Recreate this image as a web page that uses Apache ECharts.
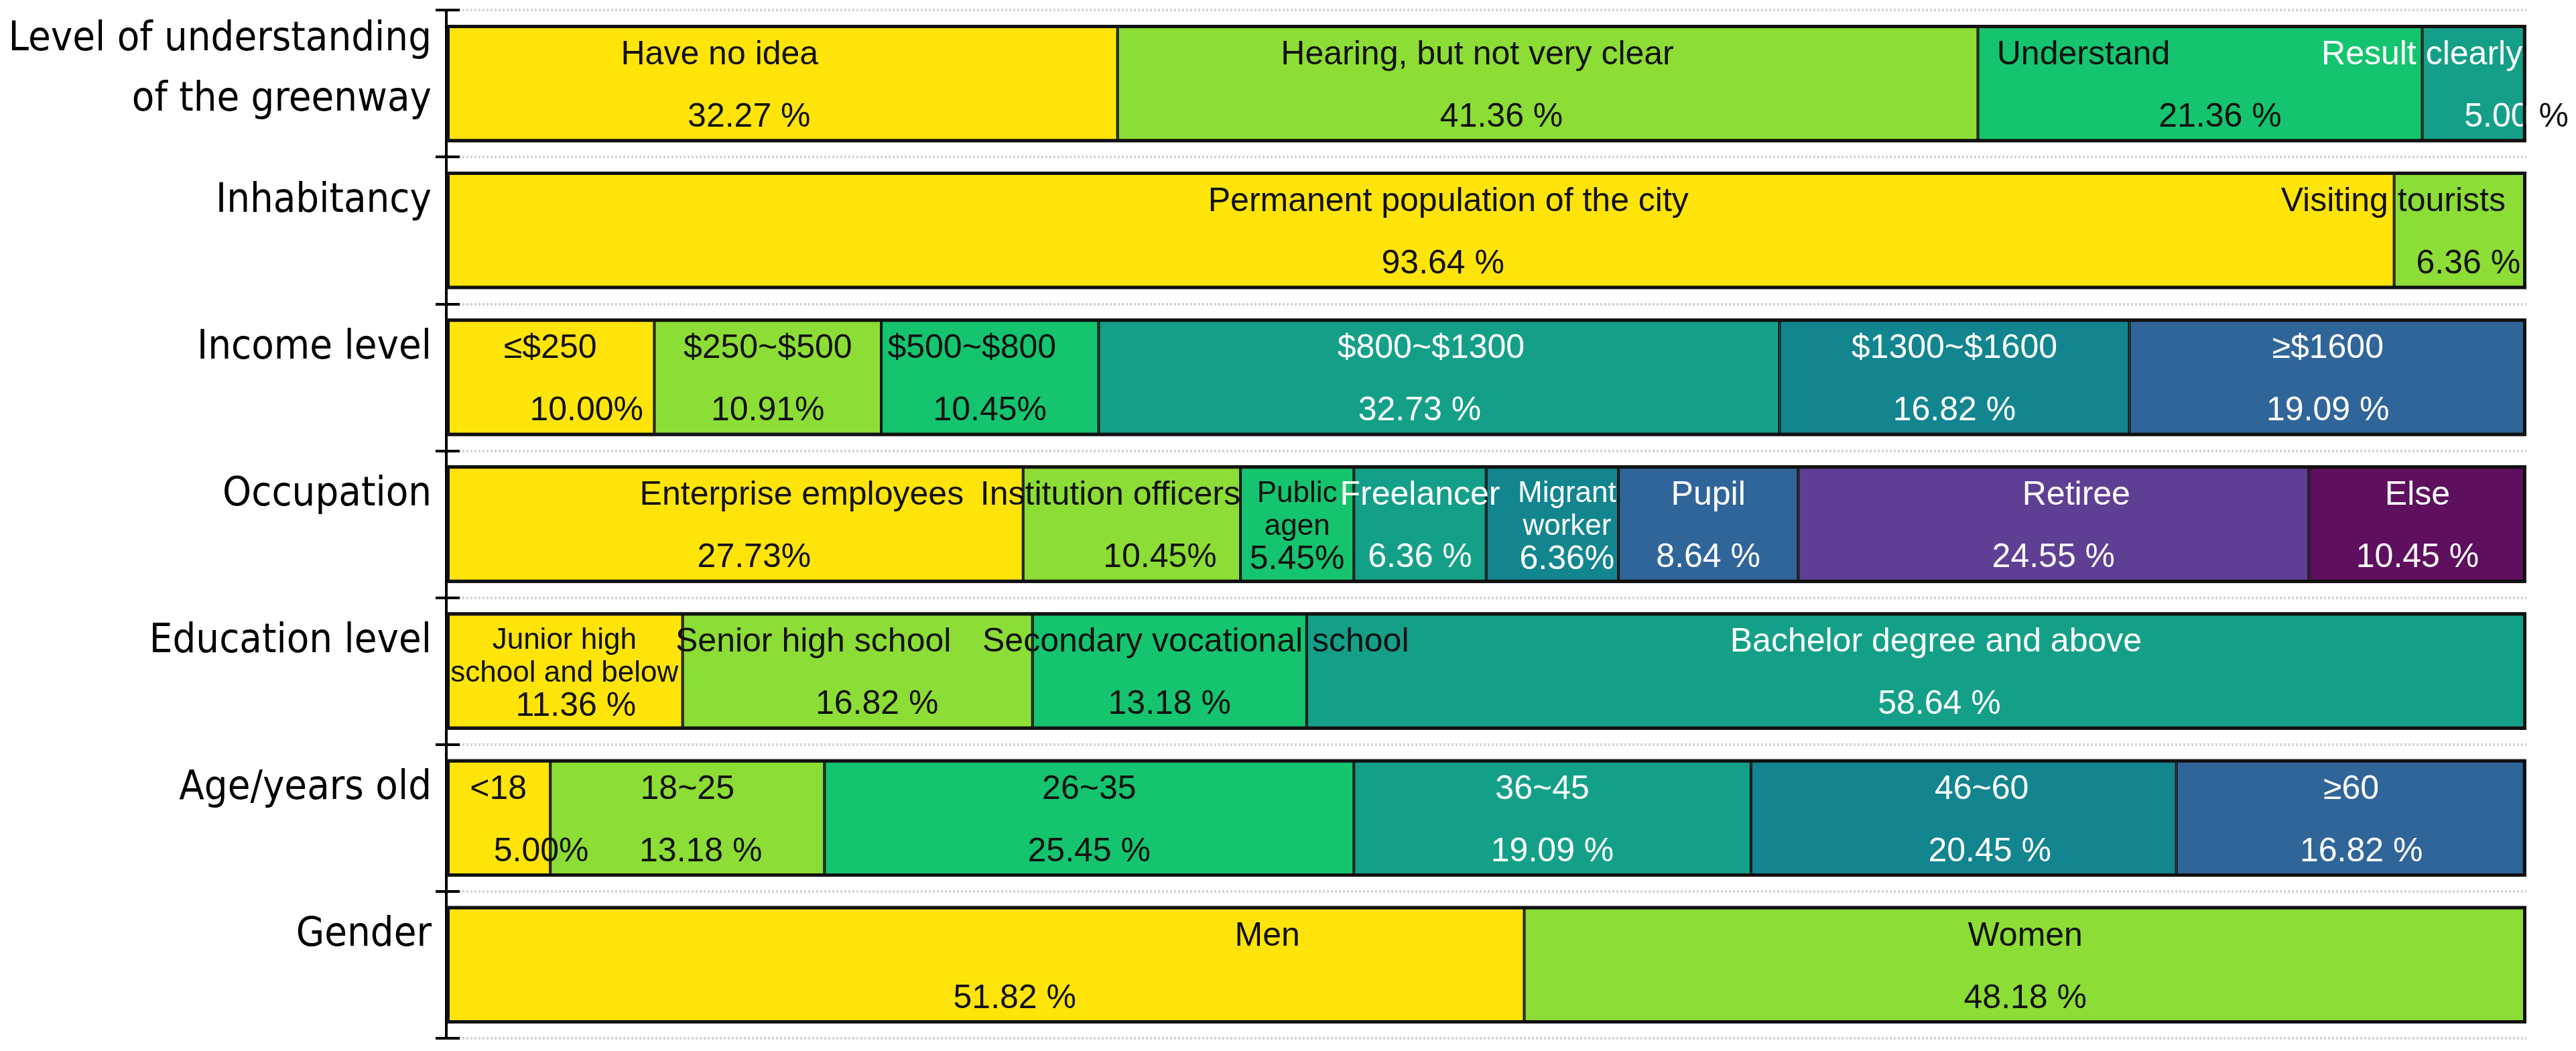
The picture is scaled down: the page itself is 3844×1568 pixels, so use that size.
<!DOCTYPE html>
<html>
<head>
<meta charset="utf-8">
<title>Greenway survey respondents</title>
<script src="https://cdn.jsdelivr.net/npm/echarts@6/dist/echarts.min.js"></script>
<style>
  html, body { margin: 0; padding: 0; background: #fff; }
  #chart { width: 3844px; height: 1568px; }
</style>
</head>
<body>
<div id="chart"></div>
<script>
// rows, top to bottom
const rows = ['Level of understanding\nof the greenway', 'Inhabitancy', 'Income level', 'Occupation', 'Education level', 'Age/years old', 'Gender']

const understandingNames = ['Have no idea', 'Hearing, but not very clear', 'Understand', 'Result clearly']
const understandingValues = [32.27, 41.36, 21.36, 5.00]
const inhabitancyNames = ['Permanent population of the city', 'Visiting tourists']
const inhabitancyValues = [93.64, 6.36]
const incomeNames = ['≤$250', '$250~$500', '$500~$800', '$800~$1300', '$1300~$1600', '≥$1600']
const incomeValues = [10.00, 10.91, 10.45, 32.73, 16.82, 19.09]
const occupationNames = ['Enterprise employees', 'Institution officers', 'Public\nagen', 'Freelancer', 'Migrant\nworker', 'Pupil', 'Retiree', 'Else']
const occupationValues = [27.73, 10.45, 5.45, 6.36, 6.36, 8.64, 24.55, 10.45]
const educationNames = ['Junior high\nschool and below', 'Senior high school', 'Secondary vocational school', 'Bachelor degree and above']
const educationValues = [11.36, 16.82, 13.18, 58.64]
const ageNames = ['<18', '18~25', '26~35', '36~45', '46~60', '≥60']
const ageValues = [5.00, 13.18, 25.45, 19.09, 20.45, 16.82]
const genderNames = ['Men', 'Women']
const genderValues = [51.82, 48.18]

const segNames = [understandingNames, inhabitancyNames, incomeNames, occupationNames, educationNames, ageNames, genderNames]
const segValues = [understandingValues, inhabitancyValues, incomeValues, occupationValues, educationValues, ageValues, genderValues]

const colors = ['#FFE40A', '#8CDD35', '#15C46E', '#14A088', '#12858F', '#30659A', '#5E3F94', '#5E0F5E']

// the original's text boxes were placed by hand, so a few labels sit off centre
// [name shift, percent shift] in px, + = right
const nudge = {
  'Have no idea': [-93, -49],
  'Hearing, but not very clear': [-105, -69],
  'Understand': [-174, 30],
  'Result clearly': [-78, 63],
  'Permanent population of the city': [42, 34],
  'Visiting tourists': [-100, 12],
  '≤$250': [0, 54],
  '$500~$800': [-27, 0],
  '$800~$1300': [-12, -29],
  'Enterprise employees': [100, 29],
  'Institution officers': [-32, 42],
  'Migrant\nworker': [22, 22],
  'Retiree': [34, 0],
  'Junior high\nschool and below': [0, 17],
  'Senior high school': [-66, 29],
  'Secondary vocational school': [39, 0],
  'Bachelor degree and above': [29, 34],
  '<18': [0, 64],
  '18~25': [0, 20],
  '36~45': [-15, 0],
  '46~60': [27, 39],
  '≥60': [0, 15],
  'Men': [421, 44]
}
// these were typed without a space before the % sign
const tightPct = ['≤$250', '$250~$500', '$500~$800', 'Enterprise employees', 'Institution officers', 'Public\nagen', 'Migrant\nworker', '<18']

const pad = s => s >= 0 ? [0, 0, 0, 2 * s] : [0, -2 * s, 0, 0]

function labelFor(name, value, k) {
  const [dn, dp] = nudge[name] || [0, 0]
  const ink = k < 3 ? '#111' : '#fff'
  const multi = name.includes('\n')
  const base = {fontFamily: 'Liberation Sans, Arial, sans-serif', fontSize: 50, color: ink, lineHeight: multi ? 49 : 93}
  const sep = tightPct.includes(name) ? '' : ' '
  const nameLines = name.split('\n').map(t => `{n|${t}}`).join('\n')
  let pctLine = `{p|${value.toFixed(2)}${sep}%}`
  if (name === 'Result clearly') pctLine = `{p|${value.toFixed(2)}}{q| %}`
  return {
    formatter: nameLines + '\n' + pctLine,
    rich: {
      n: {...base, fontSize: multi ? 44 : 50, padding: pad(dn)},
      p: {...base, padding: pad(dp)},
      q: {...base, color: '#111'}
    }
  }
}

const maxSegs = Math.max(...segNames.map(a => a.length))
const series = []
for (let k = 0; k < maxSegs; k++) {
  series.push({
    type: 'bar',
    stack: 'share',
    barCategoryGap: '20%',
    barGap: '-100%',
    itemStyle: {color: colors[k], borderColor: '#111', borderWidth: 2},
    label: {show: true, position: 'inside', offset: [0, 4]},
    data: rows.map((_, r) => {
      const name = segNames[r][k]
      if (name === undefined) return '-'
      const value = segValues[r][k]
      return {value, name, label: labelFor(name, value, k)}
    })
  })
}
// heavy outline round each whole bar
series.push({
  type: 'bar',
  stack: 'frame',
  barCategoryGap: '20%',
  barGap: '-100%',
  silent: true,
  z: 5,
  itemStyle: {color: 'transparent', borderColor: '#111', borderWidth: 5},
  data: segValues.map(v => +v.reduce((a, b) => a + b, 0).toFixed(2))
})

const chart = echarts.init(document.getElementById('chart'))
chart.setOption({
  animation: false,
  grid: {left: 666, right: 74, top: 15, bottom: 19, outerBoundsMode: 'none'},
  xAxis: {type: 'value', min: 0, max: 100, show: false},
  yAxis: [{
    type: 'category',
    data: rows,
    inverse: true,
    axisLine: {show: true, lineStyle: {color: '#000', width: 4}},
    axisTick: {show: true, length: 16, lineStyle: {color: '#000', width: 4}},
    axisLabel: {
      margin: 22,
      // row names sit above the middle of their band; an empty line below lifts them
      formatter: v => {
        const lines = v.split('\n')
        return lines.map(t => `{a|${t}}`).join('\n') + (lines.length > 1 ? '\n{h| }' : '\n{g| }')
      },
      rich: {
        a: {color: '#000', fontFamily: 'DejaVu Sans Condensed, Liberation Sans, Arial', fontSize: 61, lineHeight: 90},
        g: {fontSize: 10, lineHeight: 88},
        h: {fontSize: 10, lineHeight: 40}
      }
    },
    splitLine: {show: true, lineStyle: {type: [3, 3], color: '#d4d4d4', width: 4}}
  }, {
    // second copy only to make the ticks cross the axis line
    type: 'category',
    data: rows,
    inverse: true,
    position: 'left',
    axisLine: {show: false},
    axisLabel: {show: false},
    axisTick: {show: true, inside: true, length: 20, lineStyle: {color: '#000', width: 4}},
    splitLine: {show: false}
  }],
  series
})
</script>
</body>
</html>
